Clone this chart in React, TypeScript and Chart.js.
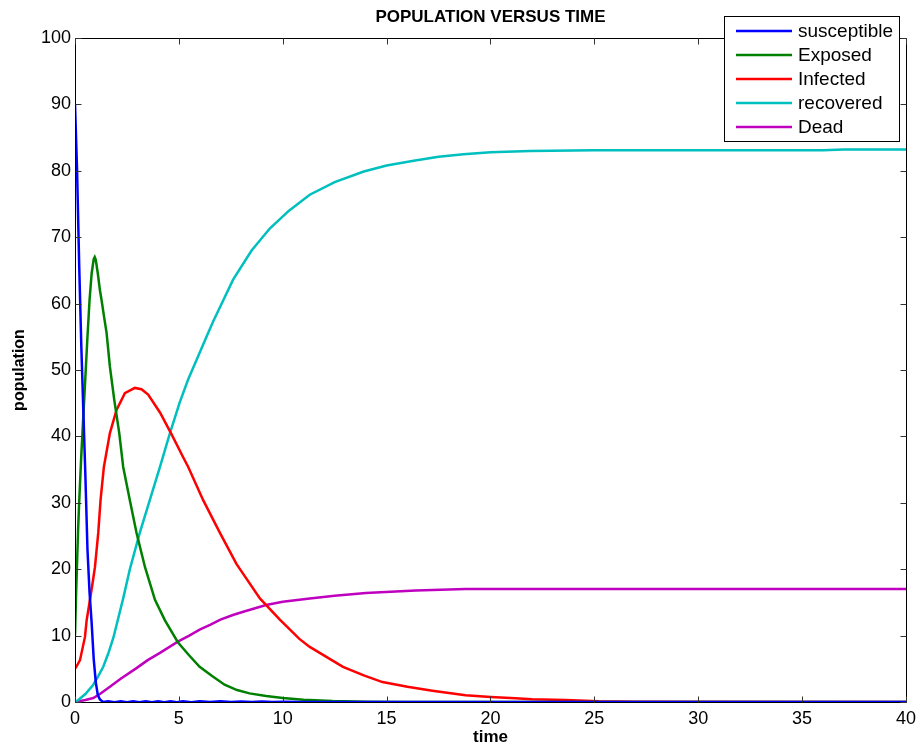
import React, { useEffect, useRef } from "react";
import { Chart, registerables } from "chart.js";

Chart.register(...registerables);

const titleText = "POPULATION VERSUS TIME";
const xTitle = "time";
const yTitle = "population";
const seriesNames = ["susceptible", "Exposed", "Infected", "recovered", "Dead"];
const seriesColors = ["#0000ff", "#008000", "#ff0000", "#00bfbf", "#bf00bf"];

const xTicks = [0, 5, 10, 15, 20, 25, 30, 35, 40];
const yTicks = [0, 10, 20, 30, 40, 50, 60, 70, 80, 90, 100];

const tS = [0, 0.1, 0.2, 0.3, 0.4, 0.5, 0.6, 0.7, 0.8, 0.9, 1.0, 1.1, 1.2, 1.35, 1.6, 1.9, 2.2, 2.5, 2.8, 3.1, 3.4, 3.7, 4.0, 4.3, 4.6, 4.9, 5.2, 5.6, 6.0, 6.5, 7.0, 7.5, 8.0, 8.5, 9.0, 9.5, 10.0, 11, 12, 40];
const S = [90, 80, 66, 54, 44, 34, 23, 16.5, 12, 6.5, 3, 1, 0.4, 0, 0.1, -0.05, 0.12, -0.05, 0.12, -0.05, 0.12, -0.05, 0.12, -0.05, 0.1, -0.05, 0.1, -0.03, 0.1, 0, 0.1, 0, 0.08, 0, 0.08, 0, 0.05, 0, 0, 0];

const tE = [0, 0.05, 0.1, 0.15, 0.2, 0.3, 0.4, 0.5, 0.6, 0.7, 0.8, 0.9, 0.95, 1.0, 1.1, 1.2, 1.28, 1.4, 1.52, 1.68, 1.89, 2.13, 2.32, 2.64, 2.96, 3.37, 3.85, 4.33, 4.95, 5.5, 6.0, 6.6, 7.2, 7.8, 8.4, 9.2, 10, 11, 12.4, 14, 16, 40];
const E = [10, 16, 21, 26, 30, 37, 43, 49, 55, 60.5, 64.5, 66.7, 67, 66.6, 64.5, 62, 60.5, 58, 55.6, 50.5, 45.5, 40.5, 35.4, 30.4, 25.5, 20.3, 15.4, 12.3, 9, 7, 5.3, 3.9, 2.6, 1.8, 1.3, 0.9, 0.6, 0.35, 0.15, 0.05, 0, 0];

const tI = [0, 0.1, 0.24, 0.48, 0.56, 0.72, 0.85, 0.96, 1.12, 1.23, 1.39, 1.68, 2.0, 2.4, 2.88, 3.2, 3.52, 4.09, 4.65, 5.2, 5.45, 6.17, 6.97, 7.77, 8.9, 9.86, 10.8, 11.3, 12.1, 12.9, 13.9, 14.8, 16, 17.2, 18.8, 20, 21.2, 22, 23.6, 25.2, 27, 40];
const I = [5, 5.5, 6.3, 9.8, 12.3, 15.4, 18, 20.3, 25.5, 30.4, 35.4, 40.5, 44, 46.5, 47.3, 47.1, 46.3, 43.6, 40.3, 36.9, 35.4, 30.4, 25.5, 20.8, 15.6, 12.4, 9.5, 8.3, 6.8, 5.3, 4, 3, 2.3, 1.7, 1.0, 0.75, 0.55, 0.4, 0.3, 0.1, 0.05, 0];

const tR = [0, 0.16, 0.5, 0.88, 1.1, 1.36, 1.6, 1.84, 2.0, 2.32, 2.64, 3.12, 3.6, 4.09, 4.57, 5.05, 5.45, 5.85, 6.33, 6.65, 7.12, 7.61, 8.5, 9.375, 10.3, 11.3, 12.5, 13.9, 15, 16.3, 17.5, 18.7, 20, 21.9, 25, 30, 36, 37, 40];
const R = [0, 0.3, 1.2, 2.6, 3.8, 5.3, 7.3, 9.6, 11.6, 15.6, 20.0, 25.5, 30.4, 35.4, 40.5, 45.2, 48.6, 51.5, 55.0, 57.3, 60.4, 63.6, 68, 71.3, 74, 76.4, 78.3, 79.9, 80.8, 81.5, 82.1, 82.5, 82.8, 83.0, 83.1, 83.1, 83.1, 83.2, 83.2];

const tD = [0, 0.5, 0.88, 1.2, 1.68, 2.2, 2.96, 3.5, 4.09, 4.95, 5.5, 6.0, 6.5, 7.0, 7.6, 8.1, 9.2, 10, 11.3, 12.5, 14, 16.4, 18.8, 40];
const D = [0, 0.3, 0.6, 1.2, 2.3, 3.5, 5.1, 6.3, 7.4, 9.1, 10, 10.9, 11.6, 12.4, 13.1, 13.6, 14.6, 15.1, 15.6, 16, 16.4, 16.8, 17.0, 17.0];

const seriesT = [tS, tE, tI, tR, tD];
const seriesV = [S, E, I, R, D];

const FONT = "'Liberation Sans', Arial, Helvetica, sans-serif";

const framePlugin = {
  id: "frame",
  afterDraw(chart: any) {
    const ctx = chart.ctx;
    const a = chart.chartArea;
    const xs = chart.scales.x;
    const ys = chart.scales.y;
    ctx.save();
    ctx.strokeStyle = "#000";
    ctx.lineWidth = 1;
    const L = Math.round(a.left) + 0.5;
    const Rr = Math.round(a.right) + 0.5;
    const T = Math.round(a.top) + 0.5;
    const B = Math.round(a.bottom) + 0.5;
    ctx.beginPath();
    ctx.rect(L, T, Rr - L, B - T);
    ctx.stroke();
    ctx.strokeStyle = "#333";
    ctx.beginPath();
    for (const v of xTicks) {
      const px = Math.round(xs.getPixelForValue(v)) + 0.5;
      ctx.moveTo(px, B);
      ctx.lineTo(px, B - 6);
      ctx.moveTo(px, T);
      ctx.lineTo(px, T + 6);
    }
    for (const v of yTicks) {
      const py = Math.round(ys.getPixelForValue(v)) + 0.5;
      ctx.moveTo(L, py);
      ctx.lineTo(L + 6, py);
      ctx.moveTo(Rr, py);
      ctx.lineTo(Rr - 6, py);
    }
    ctx.stroke();

    // title
    ctx.fillStyle = "#000";
    ctx.font = `bold 17px ${FONT}`;
    ctx.textAlign = "center";
    ctx.textBaseline = "middle";
    ctx.fillText(titleText, (a.left + a.right) / 2, 17);
    // x title
    ctx.font = `bold 17px ${FONT}`;
    ctx.fillText(xTitle, (a.left + a.right) / 2, 737);
    // y title
    ctx.save();
    ctx.translate(20, (a.top + a.bottom) / 2);
    ctx.rotate(-Math.PI / 2);
    ctx.font = `bold 16px ${FONT}`;
    ctx.fillText(yTitle, 0, 0);
    ctx.restore();

    // legend
    const lx = 724.5, ly = 16.5, lw = 175, lh = 125;
    ctx.fillStyle = "#fff";
    ctx.fillRect(lx, ly, lw, lh);
    ctx.strokeStyle = "#000";
    ctx.lineWidth = 1;
    ctx.strokeRect(lx, ly, lw, lh);
    ctx.font = `19px ${FONT}`;
    ctx.textAlign = "left";
    ctx.textBaseline = "middle";
    seriesNames.forEach((name, i) => {
      const y = 31 + i * 24;
      ctx.strokeStyle = seriesColors[i];
      ctx.lineWidth = 2.5;
      ctx.beginPath();
      ctx.moveTo(736, y);
      ctx.lineTo(792, y);
      ctx.stroke();
      ctx.fillStyle = "#000";
      ctx.fillText(name, 798, y + 1);
    });
    ctx.restore();
  },
};

export default function App() {
  const ref = useRef<HTMLCanvasElement | null>(null);
  useEffect(() => {
    if (!ref.current) return;
    const datasets = seriesNames.map((name, i) => ({
      label: name,
      data: seriesT[i].map((t, k) => ({ x: t, y: seriesV[i][k] })),
      borderColor: seriesColors[i],
      backgroundColor: seriesColors[i],
      borderWidth: 2.5,
      pointRadius: 0,
      tension: 0,
      fill: false,
    }));
    const chart = new Chart(ref.current, {
      type: "line",
      data: { datasets },
      options: {
        animation: false,
        responsive: false,
        layout: { padding: { top: 38, right: 15, left: 0, bottom: 0 } },
        plugins: { legend: { display: false }, title: { display: false }, tooltip: { enabled: false } },
        scales: {
          x: {
            type: "linear",
            min: 0,
            max: 40,
            grid: { display: false, drawTicks: false },
            border: { display: false },
            ticks: { stepSize: 5, color: "#000", font: { family: FONT, size: 18 }, padding: 6, maxRotation: 0 },
            afterFit: (s: any) => { s.height = 48; },
          },
          y: {
            min: 0,
            max: 100,
            grid: { display: false, drawTicks: false },
            border: { display: false },
            ticks: { stepSize: 10, color: "#000", font: { family: FONT, size: 18 }, padding: 4 },
            afterFit: (s: any) => { s.width = 75; },
          },
        },
      },
      plugins: [framePlugin],
    });
    return () => chart.destroy();
  }, []);
  return (
    <div style={{ position: "absolute", left: 0, top: 0, width: 922, height: 750 }}>
      <canvas ref={ref} width={922} height={750} style={{ width: 922, height: 750, display: "block" }} />
    </div>
  );
}
